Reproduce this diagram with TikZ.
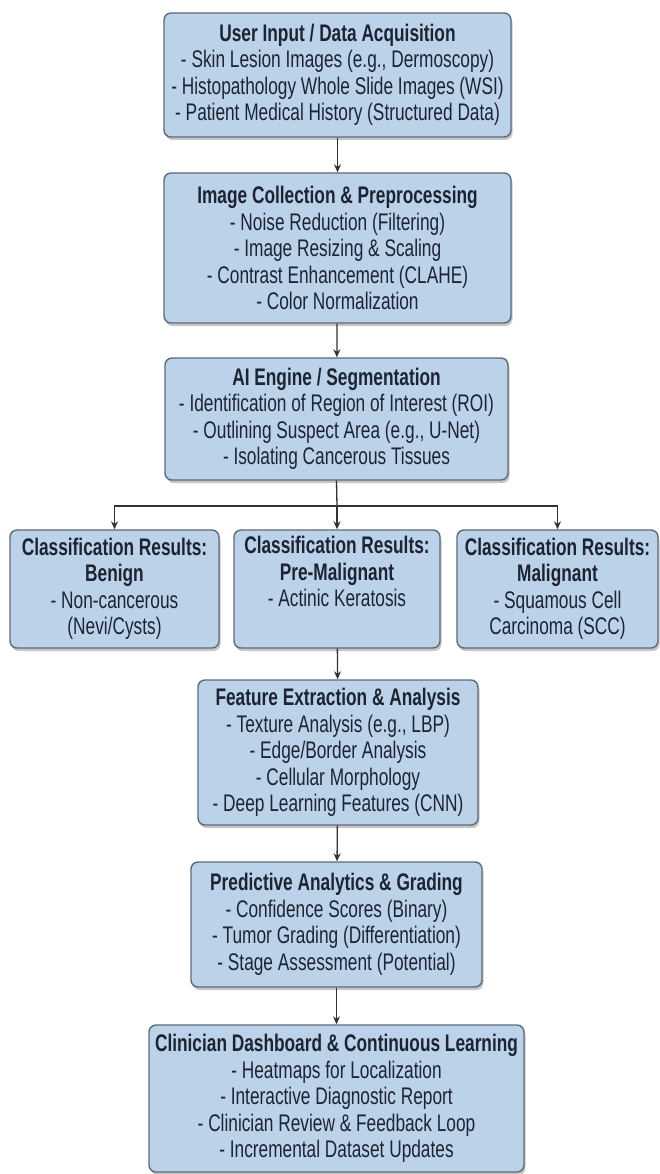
\documentclass[tikz,border=0pt]{standalone}
\usepackage{fontspec}
\setmainfont{Liberation Sans}[FakeStretch=0.72]
\usetikzlibrary{arrows.meta,shadows}
\definecolor{boxfill}{RGB}{188,210,232}
\definecolor{boxline}{RGB}{92,106,122}
\definecolor{boxtext}{RGB}{28,36,52}

\begin{document}
\begin{tikzpicture}[x=1pt, y=-1pt,
   stage/.style={draw=boxline, fill=boxfill, line width=1.4pt, rounded corners=7pt,
      drop shadow={shadow xshift=1.5pt, shadow yshift=-3pt, opacity=0.45},
      align=center, inner sep=0pt, text=boxtext,
      font={\fontsize{24}{26.5}\selectfont}},
   flow/.style={line width=1.3pt, draw=black!80, -{Stealth[length=8pt,width=7pt]}}]
   \useasboundingbox (0,0) rectangle (660,1174);

   % Main pipeline
   \node[stage, minimum width=347pt, minimum height=124pt] (input) at (337.5,75)
      {\textbf{User Input / Data Acquisition}\\
       - Skin Lesion Images (e.g., Dermoscopy)\\
       - Histopathology Whole Slide Images (WSI)\\
       - Patient Medical History (Structured Data)};
   \node[stage, minimum width=347pt, minimum height=150pt] (prep) at (337.5,248)
      {\textbf{Image Collection \& Preprocessing}\\
       - Noise Reduction (Filtering)\\
       - Image Resizing \& Scaling\\
       - Contrast Enhancement (CLAHE)\\
       - Color Normalization};
   \node[stage, minimum width=343pt, minimum height=122pt] (seg) at (336.5,419)
      {\textbf{AI Engine / Segmentation}\\
       - Identification of Region of Interest (ROI)\\
       - Outlining Suspect Area (e.g., U-Net)\\
       - Isolating Cancerous Tissues};

   % Classification branches
   \node[stage, minimum width=209pt, minimum height=118pt] (benign) at (114.5,589)
      {\textbf{Classification Results:}\\ \textbf{Benign}\\
       - Non-cancerous\\ (Nevi/Cysts)};
   \node[stage, minimum width=206pt, minimum height=118pt] (premal) at (337,589)
      {\textbf{Classification Results:}\\ \textbf{Pre-Malignant}\\
       - Actinic Keratosis\\ \strut};
   \node[stage, minimum width=201pt, minimum height=118pt] (malig) at (557.5,589)
      {\textbf{Classification Results:}\\ \textbf{Malignant}\\
       - Squamous Cell\\ Carcinoma (SCC)};

   \node[stage, minimum width=280pt, minimum height=145pt] (feat) at (338,752.5)
      {\textbf{Feature Extraction \& Analysis}\\
       - Texture Analysis (e.g., LBP)\\
       - Edge/Border Analysis\\
       - Cellular Morphology\\
       - Deep Learning Features (CNN)};
   \node[stage, minimum width=291pt, minimum height=125pt] (pred) at (336.5,924.5)
      {\textbf{Predictive Analytics \& Grading}\\
       - Confidence Scores (Binary)\\
       - Tumor Grading (Differentiation)\\
       - Stage Assessment (Potential)};
   \node[stage, minimum width=375pt, minimum height=147pt] (clin) at (336.5,1098.5)
      {\textbf{Clinician Dashboard \& Continuous Learning}\\
       - Heatmaps for Localization\\
       - Interactive Diagnostic Report\\
       - Clinician Review \& Feedback Loop\\
       - Incremental Dataset Updates};

   % Connectors
   \coordinate (split) at (337,506);
   \draw[flow] (input) -- (prep);
   \draw[flow] (prep) -- (seg);
   \draw[line width=1.3pt, draw=black!80] (seg.south) -- (split);
   \draw[flow] (split) -| (benign.north);
   \draw[flow] (split) -- (premal.north);
   \draw[flow] (split) -| (malig.north);
   \draw[flow] (premal) -- (feat);
   \draw[flow] (feat) -- (pred);
   \draw[flow] (pred) -- (clin);
\end{tikzpicture}
\end{document}
